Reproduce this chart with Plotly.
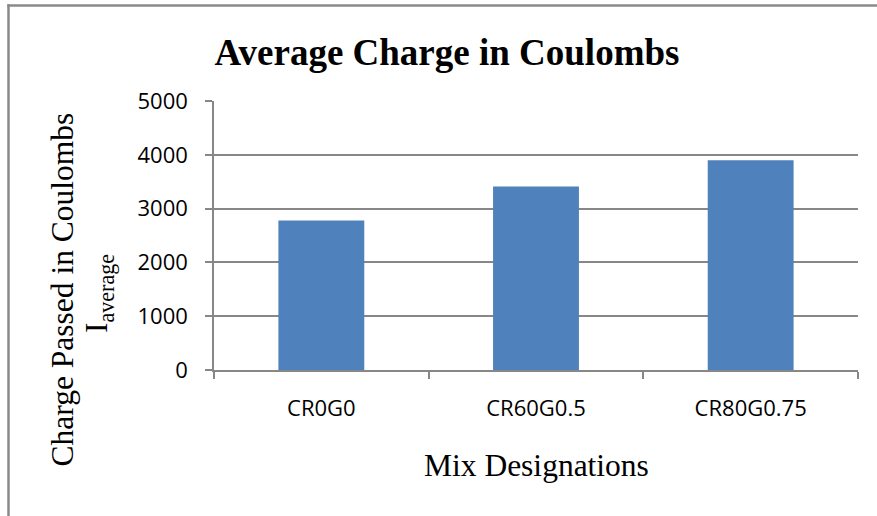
import plotly.graph_objects as go

# Average charge passed per mix (coulombs)
mixes = ["CR0G0", "CR60G0.5", "CR80G0.75"]
avg_charge = [2780, 3410, 3900]
y_ticks = [0, 1000, 2000, 3000, 4000, 5000]

W, H = 877, 516
ML, MR, MT, MB = 214, 19, 101, 146
PW = W - ML - MR
PH = H - MT - MB

GRID = "#878787"
SERIF = "Liberation Serif, Times New Roman, serif"
SANS = "Open Sans, Carlito, Calibri, sans-serif"


def px_x(px):
    return (px - ML) / PW


def px_y(py):
    return 1 - (py - MT) / PH


fig = go.Figure(
    go.Bar(
        x=mixes,
        y=avg_charge,
        marker=dict(color="#4F81BD", line=dict(width=0)),
        showlegend=False,
    )
)

fig.update_layout(
    width=W,
    height=H,
    margin=dict(l=ML, r=MR, t=MT, b=MB, pad=0),
    paper_bgcolor="white",
    plot_bgcolor="white",
    bargap=0.6,
    title=dict(
        text="<b>Average Charge in Coulombs</b>",
        font=dict(family=SERIF, size=37, color="black"),
        x=447 / W,
        xanchor="center",
        y=1 - 52 / H,
        yanchor="middle",
    ),
)

fig.update_xaxes(
    showline=True,
    linecolor=GRID,
    linewidth=1.5,
    ticks="outside",
    tickson="boundaries",
    ticklen=7,
    tickwidth=1.5,
    tickcolor=GRID,
    tickfont=dict(family=SANS, size=22, color="black"),
    ticklabelstandoff=18,
    showgrid=False,
)

fig.update_yaxes(
    range=[0, 5000],
    tickvals=y_ticks,
    ticktext=[str(v) for v in y_ticks],
    showline=True,
    linecolor=GRID,
    linewidth=1.5,
    ticks="outside",
    ticklen=7,
    tickwidth=1.5,
    tickcolor=GRID,
    showgrid=True,
    gridcolor=GRID,
    gridwidth=1.5,
    zeroline=False,
    tickfont=dict(family=SANS, size=22, color="black"),
    ticklabelstandoff=13,
)

# Axis titles
fig.add_annotation(
    text="Mix Designations",
    xref="paper", yref="paper",
    x=px_x(536), y=px_y(465),
    xanchor="center", yanchor="middle",
    showarrow=False,
    font=dict(family=SERIF, size=31.5, color="black"),
)
fig.add_annotation(
    text="Charge Passed in Coulombs",
    xref="paper", yref="paper",
    x=px_x(62), y=px_y(289.5),
    xanchor="center", yanchor="middle",
    textangle=-90,
    showarrow=False,
    font=dict(family=SERIF, size=31.5, color="black"),
)
fig.add_annotation(
    text="I<sub>average</sub>",
    xref="paper", yref="paper",
    x=px_x(99), y=px_y(294),
    xanchor="center", yanchor="middle",
    textangle=-90,
    showarrow=False,
    font=dict(family=SERIF, size=31.5, color="black"),
)

# Chart-area frame: left and top edges, running off the page
frame = dict(color="#8a8a8a", width=2.5)
fig.add_shape(
    type="line", xref="paper", yref="paper",
    x0=px_x(8.5), x1=px_x(8.5), y0=px_y(H + 40), y1=px_y(4.3),
    line=frame, layer="below",
)
fig.add_shape(
    type="line", xref="paper", yref="paper",
    x0=px_x(7.3), x1=px_x(W + 40), y0=px_y(5.5), y1=px_y(5.5),
    line=frame, layer="below",
)

fig.write_html("out.html", config={"displayModeBar": False})
